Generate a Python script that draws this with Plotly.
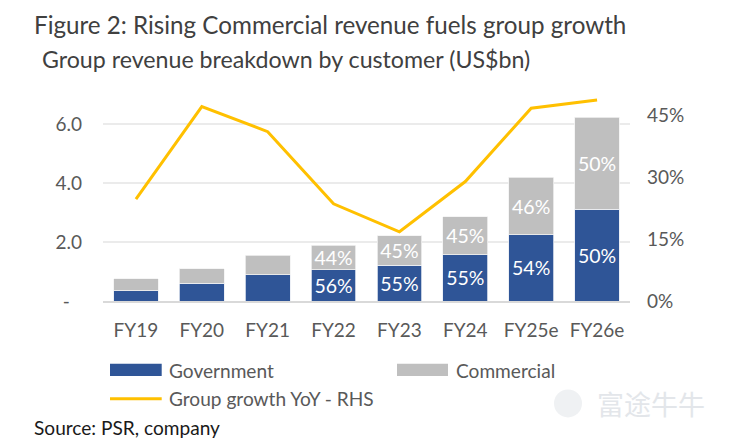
import plotly.graph_objects as go

# ---------------- data ----------------
categories = ["FY19", "FY20", "FY21", "FY22", "FY23", "FY24", "FY25e", "FY26e"]
government = [0.35, 0.61, 0.90, 1.07, 1.22, 1.57, 2.25, 3.12]
commercial = [0.40, 0.48, 0.65, 0.83, 1.00, 1.30, 1.95, 3.12]
growth_yoy = [0.247, 0.472, 0.411, 0.236, 0.168, 0.290, 0.468, 0.488]
show_share = [False, False, False, True, True, True, True, True]
left_ticks = [0, 2, 4, 6]
left_ticktext = ["-\u00a0\u00a0\u2009", "2.0", "4.0", "6.0"]
right_ticks = [0, 0.15, 0.30, 0.45]
right_ticktext = ["0%", "15%", "30%", "45%"]

title_text = "Figure 2: Rising Commercial revenue fuels group growth"
subtitle_text = "Group revenue breakdown by customer (US$bn)"
source_text = "Source: PSR, company"

# ---------------- style ----------------
FONT = "Lato, Open Sans, sans-serif"
GOV = "#2F5597"
COM = "#BFBFBF"
LINE = "#FFC000"
AX = "#595959"
TS = 19      # tick text size
LS = 19.1    # legend / source text size

W, H = 732, 440
L, R, T, B = 103, 102, 95, 139.3
PW = W - L - R
PH = H - T - B


def px(xp):
    return (xp - L) / PW


def py(yp):
    return (H - B - yp) / PH


totals = [g + c for g, c in zip(government, commercial)]
gov_text = [f"{round(100 * g / t)}%" if s else "" for g, t, s in zip(government, totals, show_share)]
com_text = [f"{round(100 * c / t)}%" if s else "" for c, t, s in zip(commercial, totals, show_share)]

fig = go.Figure()
fig.add_trace(go.Bar(
    x=categories, y=government, name="Government",
    marker=dict(color=GOV, line=dict(color="#e8ecf4", width=0.8)),
    text=gov_text, textposition="inside", insidetextanchor="middle", textangle=0,
    textfont=dict(color="white", size=19.5, family=FONT), constraintext="none",
    showlegend=False,
))
fig.add_trace(go.Bar(
    x=categories, y=commercial, name="Commercial",
    marker=dict(color=COM, line=dict(color="#f2f2f2", width=0.8)),
    text=com_text, textposition="inside", insidetextanchor="middle", textangle=0,
    textfont=dict(color="white", size=19.5, family=FONT), constraintext="none",
    showlegend=False,
))
fig.add_trace(go.Scatter(
    x=categories, y=growth_yoy, name="Group growth YoY - RHS", yaxis="y2",
    mode="lines", line=dict(color=LINE, width=3), showlegend=False,
))

fig.update_layout(
    width=W, height=H,
    margin=dict(l=L, r=R, t=T, b=B, pad=0),
    paper_bgcolor="white", plot_bgcolor="white",
    barmode="stack", bargap=0.32,
    uniformtext=dict(mode=False),
    font=dict(family=FONT, color=AX, size=TS),
    xaxis=dict(
        showgrid=False, showline=True, linecolor="#d9d9d9", linewidth=2,
        ticks="", tickfont=dict(size=TS, color=AX), ticklabelstandoff=11,
    ),
    yaxis=dict(
        range=[0, 7], tickvals=left_ticks, ticktext=left_ticktext,
        showgrid=True, gridcolor="#ebebeb", gridwidth=1.5, zeroline=False,
        showline=False, ticks="", tickfont=dict(size=TS, color=AX), ticklabelstandoff=20,
    ),
    yaxis2=dict(
        range=[0, 0.5], tickvals=right_ticks, ticktext=right_ticktext,
        overlaying="y", side="right", showgrid=False, zeroline=False,
        showline=False, ticks="", tickfont=dict(size=TS, color=AX), ticklabelstandoff=16,
    ),
)

ann = []
ann.append(dict(text=title_text, x=px(32), y=py(25), xanchor="left", yanchor="middle",
                font=dict(size=24.2, color="#404040", family=FONT)))
ann.append(dict(text=subtitle_text, x=px(40), y=py(59), xanchor="left", yanchor="middle",
                font=dict(size=23.2, color="#404040", family=FONT)))
ann.append(dict(text=source_text, x=px(32), y=py(427), xanchor="left", yanchor="middle",
                font=dict(size=LS, color="#1a1a1a", family=FONT)))
# legend labels
ann.append(dict(text="Government", x=px(167), y=py(370), xanchor="left", yanchor="middle",
                font=dict(size=LS, color=AX, family=FONT)))
ann.append(dict(text="Commercial", x=px(454), y=py(370), xanchor="left", yanchor="middle",
                font=dict(size=LS, color=AX, family=FONT)))
ann.append(dict(text="Group growth YoY - RHS", x=px(167), y=py(398.5), xanchor="left", yanchor="middle",
                font=dict(size=LS, color=AX, family=FONT)))
# watermark
ann.append(dict(text="富途牛牛", x=px(595), y=py(403), xanchor="left", yanchor="middle",
                font=dict(size=27, color="#e3e6ea", family="Noto Sans CJK SC")))
for a in ann:
    a.update(xref="paper", yref="paper", showarrow=False)
fig.update_layout(annotations=ann)

shapes = [
    dict(type="rect", x0=px(110), x1=px(161.7), y0=py(375.7), y1=py(363.3),
         fillcolor=GOV, line=dict(width=0)),
    dict(type="rect", x0=px(397), x1=px(448), y0=py(375.7), y1=py(363.3),
         fillcolor=COM, line=dict(width=0)),
    dict(type="line", x0=px(110), x1=px(161.7), y0=py(398.3), y1=py(398.3),
         line=dict(color=LINE, width=3)),
    dict(type="circle", x0=px(554), x1=px(582), y0=py(417), y1=py(389),
         fillcolor="#eff1f3", line=dict(width=0)),
]
for s in shapes:
    s.update(xref="paper", yref="paper")
fig.update_layout(shapes=shapes)

fig.write_html("out.html")
